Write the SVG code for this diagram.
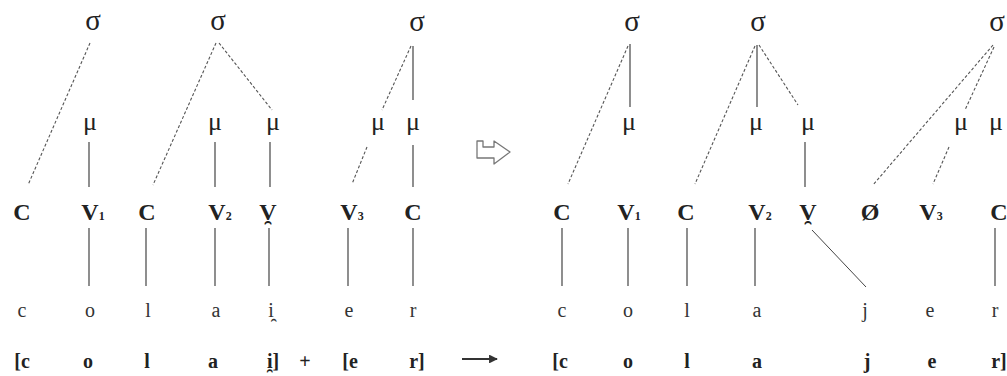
<svg xmlns="http://www.w3.org/2000/svg" width="1007" height="376" viewBox="0 0 1007 376">
  <style>
    text { font-family: "Liberation Serif", "DejaVu Serif", serif; fill: #222; text-anchor: middle; }
    .sig { font-size: 29px; }
    .mu { font-size: 26px; }
    .cv { font-size: 24px; font-weight: bold; }
    .sub { font-size: 12px; font-weight: bold; }
    .seg { font-size: 20px; fill: #333; }
    .br { font-size: 20px; font-weight: bold; }
    .solid { stroke: #444; stroke-width: 1.2; fill: none; }
    .dash { stroke: #555; stroke-width: 1.1; stroke-dasharray: 3 2; fill: none; }
  </style>
  <defs>
    <marker id="head" viewBox="0 0 10 10" refX="9" refY="5" markerWidth="4" markerHeight="4" orient="auto">
      <path d="M0,0 L10,5 L0,10 Z" fill="#333"/>
    </marker>
  </defs>
  <rect width="1007" height="376" fill="#fff"/>

  <!-- association lines -->
  <g id="connectors">
    <!-- left: col + aj + er -->
    <line class="dash" x1="90" y1="43" x2="28" y2="185"/>
    <line class="solid" x1="89" y1="142" x2="89" y2="187"/>
    <line class="solid" x1="89" y1="228" x2="89" y2="286"/>
    <line class="dash" x1="216" y1="43" x2="153" y2="185"/>
    <line class="dash" x1="219" y1="43" x2="272" y2="110"/>
    <line class="solid" x1="215" y1="142" x2="215" y2="187"/>
    <line class="solid" x1="146" y1="228" x2="146" y2="286"/>
    <line class="solid" x1="215" y1="228" x2="215" y2="286"/>
    <line class="solid" x1="270" y1="142" x2="270" y2="187"/>
    <line class="solid" x1="269" y1="228" x2="269" y2="286"/>
    <line class="solid" x1="413" y1="46" x2="413" y2="100"/>
    <line class="dash" x1="411" y1="46" x2="382" y2="110"/>
    <line class="dash" x1="367" y1="147" x2="352" y2="184"/>
    <line class="solid" x1="413" y1="145" x2="413" y2="187"/>
    <line class="solid" x1="348" y1="228" x2="348" y2="286"/>
    <line class="solid" x1="413" y1="228" x2="413" y2="286"/>

    <!-- right: resyllabified -->
    <line class="dash" x1="628" y1="46" x2="568" y2="184"/>
    <line class="solid" x1="630" y1="44" x2="630" y2="107"/>
    <line class="solid" x1="562" y1="228" x2="562" y2="286"/>
    <line class="solid" x1="628" y1="228" x2="628" y2="286"/>
    <line class="solid" x1="687" y1="228" x2="687" y2="286"/>
    <line class="dash" x1="755" y1="46" x2="695" y2="184"/>
    <line class="solid" x1="757" y1="45" x2="757" y2="107"/>
    <line class="dash" x1="759" y1="45" x2="798" y2="105"/>
    <line class="solid" x1="805" y1="142" x2="805" y2="187"/>
    <line class="solid" x1="755" y1="228" x2="755" y2="286"/>
    <line class="solid" x1="812" y1="230" x2="866" y2="287" style="stroke-width:1"/>
    <line class="dash" x1="993" y1="45" x2="873" y2="185"/>
    <line class="dash" x1="994" y1="47" x2="965" y2="110"/>
    <line class="dash" x1="949" y1="147" x2="933" y2="184"/>
    <line class="solid" x1="995" y1="228" x2="995" y2="286"/>

    <!-- hooked outline arrow between the two structures -->
    <path class="solid" d="M477,141 V158 H494 V164 L510,152 L494,141 V147 H483 V141 Z" style="stroke:#777;stroke-width:1.3;stroke-linejoin:round"/>
    <!-- derivation arrow in the transcription row -->
    <line x1="462" y1="359" x2="497" y2="359" stroke="#333" stroke-width="2.2" marker-end="url(#head)"/>
  </g>

  <!-- left structure -->
  <g id="syll-left">
    <text class="sig" x="93" y="30">σ</text>
    <text class="sig" x="218" y="30">σ</text>
    <text class="sig" x="417" y="31">σ</text>
    <text class="mu" x="90" y="130">μ</text>
    <text class="mu" x="215" y="130">μ</text>
    <text class="mu" x="273" y="130">μ</text>
    <text class="mu" x="378" y="130">μ</text>
    <text class="mu" x="413" y="130">μ</text>
    <text class="cv" x="22" y="220">C</text>
    <text class="cv" x="93" y="220">V<tspan class="sub">1</tspan></text>
    <text class="cv" x="147" y="220">C</text>
    <text class="cv" x="220" y="220">V<tspan class="sub">2</tspan></text>
    <text class="cv" x="268" y="220">V̯</text>
    <text class="cv" x="352" y="220">V<tspan class="sub">3</tspan></text>
    <text class="cv" x="413" y="220">C</text>
    <text class="seg" x="22" y="317">c</text>
    <text class="seg" x="90" y="317">o</text>
    <text class="seg" x="148" y="317">l</text>
    <text class="seg" x="216" y="317">a</text>
    <text class="seg" x="271" y="317">i̯</text>
    <text class="seg" x="349" y="317">e</text>
    <text class="seg" x="413" y="317">r</text>
    <text class="br" x="22" y="368">[c</text>
    <text class="br" x="88" y="368">o</text>
    <text class="br" x="147" y="368">l</text>
    <text class="br" x="213" y="368">a</text>
    <text class="br" x="273" y="368">i̯]</text>
    <text class="br" x="305" y="368">+</text>
    <text class="br" x="350" y="368">[e</text>
    <text class="br" x="417" y="368">r]</text>
  </g>

  <!-- right structure -->
  <g id="syll-right">
    <text class="sig" x="632" y="31">σ</text>
    <text class="sig" x="758" y="31">σ</text>
    <text class="sig" x="997" y="31">σ</text>
    <text class="mu" x="629" y="130">μ</text>
    <text class="mu" x="756" y="130">μ</text>
    <text class="mu" x="808" y="130">μ</text>
    <text class="mu" x="961" y="130">μ</text>
    <text class="mu" x="996" y="130">μ</text>
    <text class="cv" x="562" y="220">C</text>
    <text class="cv" x="629" y="220">V<tspan class="sub">1</tspan></text>
    <text class="cv" x="686" y="220">C</text>
    <text class="cv" x="760" y="220">V<tspan class="sub">2</tspan></text>
    <text class="cv" x="808" y="220">V̯</text>
    <text class="cv" x="870" y="220">Ø</text>
    <text class="cv" x="931" y="220">V<tspan class="sub">3</tspan></text>
    <text class="cv" x="999" y="220">C</text>
    <text class="seg" x="562" y="317">c</text>
    <text class="seg" x="628" y="317">o</text>
    <text class="seg" x="687" y="317">l</text>
    <text class="seg" x="757" y="317">a</text>
    <text class="seg" x="865" y="317">j</text>
    <text class="seg" x="930" y="317">e</text>
    <text class="seg" x="995" y="317">r</text>
    <text class="br" x="560" y="368">[c</text>
    <text class="br" x="628" y="368">o</text>
    <text class="br" x="687" y="368">l</text>
    <text class="br" x="757" y="368">a</text>
    <text class="br" x="867" y="368">j</text>
    <text class="br" x="932" y="368">e</text>
    <text class="br" x="999" y="368">r]</text>
  </g>
</svg>
